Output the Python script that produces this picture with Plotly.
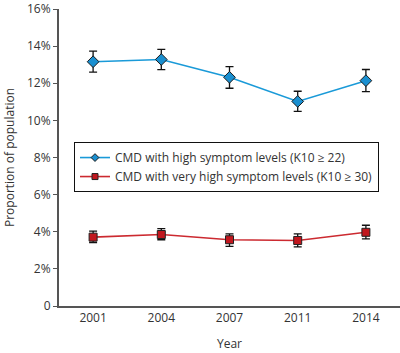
import plotly.graph_objects as go

years = ["2001", "2004", "2007", "2011", "2014"]
high = [13.16, 13.28, 12.32, 11.02, 12.14]
high_upper = [13.73, 13.83, 12.90, 11.57, 12.74]
high_lower = [12.60, 12.73, 11.73, 10.48, 11.55]
vhigh = [3.71, 3.85, 3.57, 3.53, 3.97]
vhigh_upper = [4.03, 4.17, 3.89, 3.89, 4.35]
vhigh_lower = [3.42, 3.57, 3.21, 3.19, 3.62]
ytick_vals = [0, 2, 4, 6, 8, 10, 12, 14, 16]
ytick_text = ["0", "2%", "4%", "6%", "8%", "10%", "12%", "14%", "16%"]
names = ["CMD with high symptom levels (K10 \u2265 22)",
         "CMD with very high symptom levels (K10 \u2265 30)"]

FONT = "'Open Sans', sans-serif"
TXT = "#333333"
BLUE_LINE, BLUE_MK = "#1a9ad8", "#1a8fd0"
RED_LINE, RED_MK = "#cc2a30", "#c1171e"

def err(v, up, lo):
    return dict(type="data", symmetric=False,
                array=[u - x for u, x in zip(up, v)],
                arrayminus=[x - l for x, l in zip(v, lo)],
                color="#111111", thickness=1.3, width=4)

fig = go.Figure()
fig.add_trace(go.Scatter(
    x=years, y=high, mode="lines+markers", showlegend=False,
    line=dict(color=BLUE_LINE, width=1.6),
    marker=dict(symbol="diamond", size=9, color=BLUE_MK,
                line=dict(color="#1a1a1a", width=1)),
    error_y=err(high, high_upper, high_lower),
))
fig.add_trace(go.Scatter(
    x=years, y=vhigh, mode="lines+markers", showlegend=False,
    line=dict(color=RED_LINE, width=1.6),
    marker=dict(symbol="square", size=8, color=RED_MK,
                line=dict(color="#222222", width=1)),
    error_y=err(vhigh, vhigh_upper, vhigh_lower),
))
# legend entries with smaller markers
fig.add_trace(go.Scatter(
    x=[None], y=[None], mode="lines+markers", name=names[0],
    line=dict(color=BLUE_LINE, width=1.6),
    marker=dict(symbol="diamond", size=6, color=BLUE_MK,
                line=dict(color="#1a1a1a", width=1)),
))
fig.add_trace(go.Scatter(
    x=[None], y=[None], mode="lines+markers", name=names[1],
    line=dict(color=RED_LINE, width=1.6),
    marker=dict(symbol="square", size=6, color=RED_MK,
                line=dict(color="#222222", width=1)),
))

fig.update_layout(
    width=400, height=353,
    margin=dict(l=59, r=0, t=7, b=47),
    paper_bgcolor="white", plot_bgcolor="white",
    font=dict(family=FONT, size=12, color=TXT),
    legend=dict(x=0.044, y=0.552, xanchor="left", yanchor="top",
                bordercolor="#111111", borderwidth=1, bgcolor="white",
                font=dict(size=12, color=TXT), tracegroupgap=0,
                itemwidth=30),
    xaxis=dict(type="category", range=[-0.5, 4.5], showgrid=False,
               showline=True, linecolor="#555555", linewidth=2,
               ticks="", tickfont=dict(size=12, color=TXT),
               title=dict(text="Year", font=dict(size=12, color=TXT), standoff=14)),
    yaxis=dict(range=[0, 16], tickvals=ytick_vals, ticktext=ytick_text,
               ticklabeloverflow="allow",
               showgrid=False, zeroline=False, showline=True,
               linecolor="#555555", linewidth=2, ticks="outside",
               ticklen=4, tickcolor="#555555", tickwidth=1,
               tickfont=dict(size=12, color=TXT),
               title=dict(text="Proportion of population",
                          font=dict(size=12, color=TXT), standoff=10)),
)

fig.write_html("out.html")
